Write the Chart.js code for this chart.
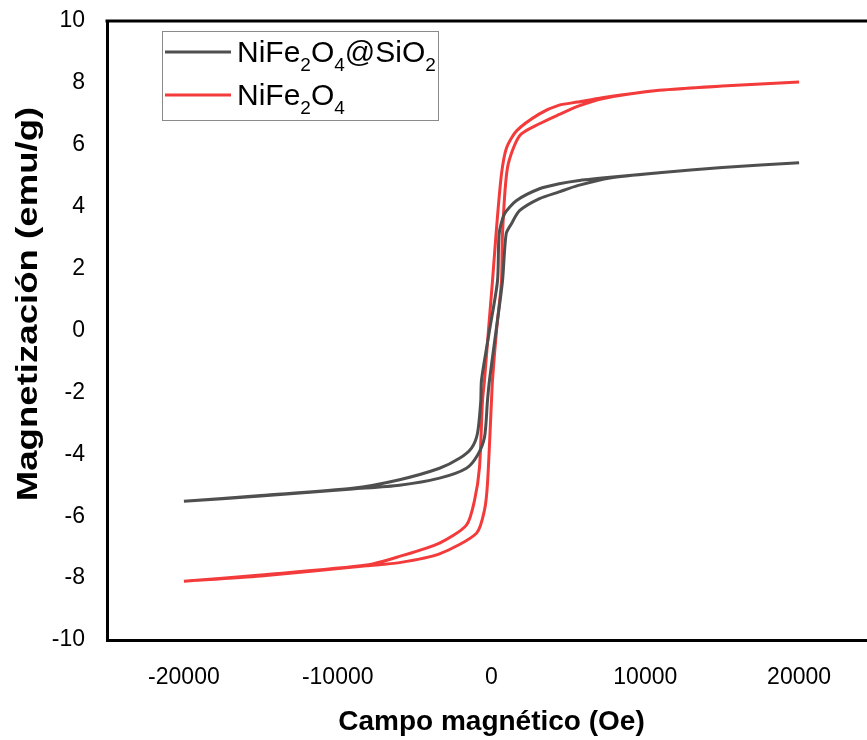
<!DOCTYPE html>
<html>
<head>
<meta charset="utf-8">
<script src="https://cdn.jsdelivr.net/npm/chart.js@4"></script>
<style>
  html, body { margin: 0; padding: 0; background: #fff; overflow: hidden; }
  #wrap { width: 900px; height: 740px; }
</style>
</head>
<body>
<div id="wrap"><canvas id="loopChart" width="900" height="740"></canvas></div>
<script>
// hysteresis loops, field in Oe, magnetization in emu/g
// descending branch (+20 kOe -> -20 kOe), then ascending branch back
const silicaDownH = [20000, 15000, 10900, 7700, 5590, 4400, 3120, 1630, 850, 500, 390, -130, -650, -700, -910, -1300, -2080, -3380, -5980, -9040, -15000, -20000];
const silicaDownM = [5.42, 5.27, 5.1, 4.95, 4.84, 4.74, 4.58, 4.2, 3.77, 3.13, 1.6, 0, -1.6, -2.3, -3.32, -3.8, -4.13, -4.45, -4.82, -5.1, -5.33, -5.52];
const silicaUpH = [-20000, -15000, -9040, -5980, -3380, -1630, -910, -455, -260, -130, 300, 715, 955, 1300, 1820, 3120, 4400, 5590, 7700, 10900, 15000, 20000];
const silicaUpM = [-5.52, -5.35, -5.12, -5.0, -4.77, -4.45, -4.03, -3.45, -2.26, -1.6, 0, 1.6, 3.13, 3.45, 3.87, 4.26, 4.48, 4.68, 4.93, 5.1, 5.27, 5.42];

const ferriteDownH = [20000, 15000, 10900, 7200, 5590, 4400, 3120, 1630, 975, 650, 325, 65, -200, -455, -585, -780, -1100, -1630, -3380, -5980, -8130, -15000, -20000];
const ferriteDownM = [8.03, 7.9, 7.76, 7.52, 7.38, 7.28, 7.0, 6.45, 5.9, 5.06, 3.3, 1.6, 0, -1.6, -2.26, -4.42, -5.48, -6.29, -6.87, -7.3, -7.58, -7.9, -8.1];
const ferriteUpH = [-20000, -15000, -8130, -5980, -3380, -975, -455, -260, 0, 65, 325, 650, 715, 1040, 1820, 3120, 4400, 5590, 7200, 10900, 15000, 20000];
const ferriteUpM = [-8.1, -7.93, -7.6, -7.5, -7.22, -6.55, -5.8, -4.94, -2.26, -1.6, 0, 1.6, 3.13, 5.26, 6.29, 6.68, 6.98, 7.24, 7.49, 7.76, 7.9, 8.03];

const seriesLabels = ['NiFe2O4@SiO2', 'NiFe2O4'];
const xTicks = [-20000, -10000, 0, 10000, 20000];
const yTicks = [-10, -8, -6, -4, -2, 0, 2, 4, 6, 8, 10];

function toPoints(hs, ms) {
    return hs.map((h, i) => ({ x: h, y: ms[i] }));
}

const fontFamily = "'Liberation Sans', Arial, sans-serif";

// top frame line (the right edge runs off the canvas)
const frameTop = {
    id: 'frameTop',
    afterDraw(chart) {
        const { ctx, chartArea } = chart;
        ctx.save();
        ctx.strokeStyle = '#000';
        ctx.lineWidth = 3;
        ctx.beginPath();
        ctx.moveTo(chartArea.left - 1.5, chartArea.top);
        ctx.lineTo(chart.width, chartArea.top);
        ctx.stroke();
        ctx.restore();
    }
};

// y title, drawn by hand so it can be stretched along its length
const yTitle = {
    id: 'yTitle',
    afterDraw(chart) {
        const ctx = chart.ctx;
        ctx.save();
        ctx.translate(29, 304);
        ctx.rotate(-Math.PI / 2);
        ctx.scale(1.22, 1);
        ctx.font = 'bold 30px ' + fontFamily;
        ctx.fillStyle = '#000';
        ctx.textAlign = 'center';
        ctx.textBaseline = 'middle';
        ctx.fillText('Magnetización (emu/g)', 0, 0);
        ctx.restore();
    }
};

// legend box with subscripted formulas
function drawFormula(ctx, text, x, y) {
    const parts = text.match(/[0-9]+|[^0-9]+/g);
    parts.forEach(p => {
        const sub = /^[0-9]+$/.test(p);
        ctx.font = (sub ? '19px ' : '30px ') + fontFamily;
        ctx.fillText(p, x, sub ? y + 9 : y);
        x += ctx.measureText(p).width;
    });
}

const boxLegend = {
    id: 'boxLegend',
    afterDraw(chart) {
        const ctx = chart.ctx;
        ctx.save();
        ctx.strokeStyle = '#8a8a8a';
        ctx.lineWidth = 1;
        ctx.strokeRect(162.5, 31.5, 276, 89);
        ctx.textBaseline = 'alphabetic';
        ctx.fillStyle = '#000';
        chart.data.datasets.forEach((ds, i) => {
            const y = 52 + i * 43;
            ctx.strokeStyle = ds.borderColor;
            ctx.lineWidth = 3;
            ctx.beginPath();
            ctx.moveTo(165, y);
            ctx.lineTo(231, y);
            ctx.stroke();
            drawFormula(ctx, ds.label, 237, y + 10);
        });
        ctx.restore();
    }
};

const ctx = document.getElementById('loopChart').getContext('2d');
const loopChart = new Chart(ctx, {
    type: 'scatter',
    data: {
        datasets: [{
            label: seriesLabels[0],
            data: toPoints(silicaDownH, silicaDownM).concat(toPoints(silicaUpH, silicaUpM)),
            borderColor: '#4f4f4f',
            borderWidth: 3,
            showLine: true,
            pointRadius: 0,
            tension: 0.25
        }, {
            label: seriesLabels[1],
            data: toPoints(ferriteDownH, ferriteDownM).concat(toPoints(ferriteUpH, ferriteUpM)),
            borderColor: '#f33b3b',
            borderWidth: 3,
            showLine: true,
            pointRadius: 0,
            tension: 0.25
        }]
    },
    options: {
        responsive: false,
        animation: false,
        layout: { padding: { top: 21, right: 24, left: 0, bottom: 0 } },
        plugins: {
            legend: { display: false },
            tooltip: { enabled: false }
        },
        scales: {
            x: {
                type: 'linear',
                min: -25000,
                max: 25000,
                afterBuildTicks: scale => { scale.ticks = xTicks.map(v => ({ value: v })); },
                afterFit: scale => {
                    scale.height = 100;
                    scale.paddingLeft = 0;
                    scale.paddingRight = 0;
                },
                grid: { display: false },
                border: { color: '#000', width: 3 },
                ticks: {
                    color: '#000',
                    padding: 16,
                    maxRotation: 0,
                    callback: v => String(v),
                    font: { family: fontFamily, size: 23 }
                },
                title: {
                    display: true,
                    text: 'Campo magnético (Oe)',
                    color: '#000',
                    padding: { top: 0, bottom: 1 },
                    font: { family: fontFamily, size: 28, weight: 'bold' }
                }
            },
            y: {
                min: -10,
                max: 10,
                afterBuildTicks: scale => { scale.ticks = yTicks.map(v => ({ value: v })); },
                afterFit: scale => {
                    scale.width = 107;
                    scale.paddingTop = 0;
                    scale.paddingBottom = 0;
                },
                grid: { display: false },
                border: { color: '#000', width: 3 },
                ticks: {
                    color: '#000',
                    padding: 14,
                    callback: v => String(v),
                    font: { family: fontFamily, size: 23 }
                }
            }
        }
    },
    plugins: [frameTop, yTitle, boxLegend]
});
</script>
</body>
</html>
